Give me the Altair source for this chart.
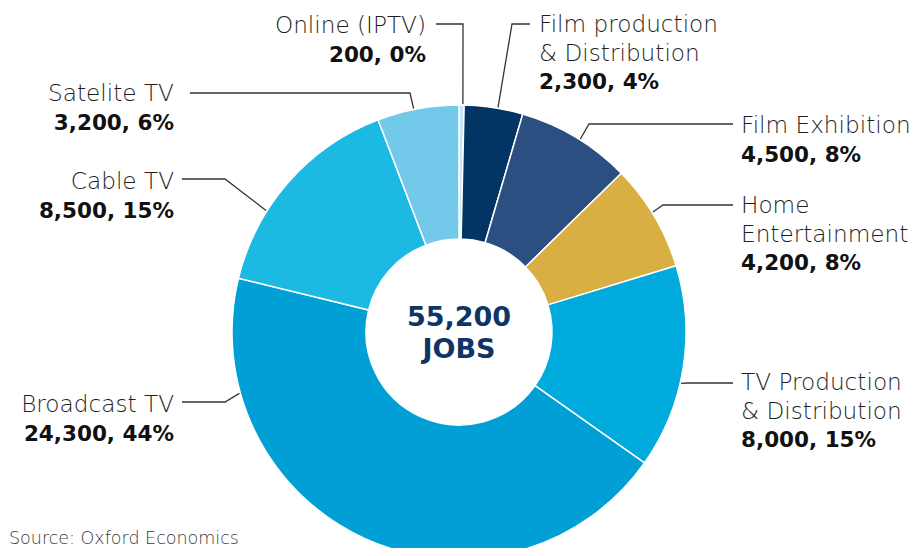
import math
import altair as alt
import pandas as pd

# ---------------- data ----------------
categories = ["Online (IPTV)", "Film production\n& Distribution", "Film Exhibition",
              "Home\nEntertainment", "TV Production\n& Distribution", "Broadcast TV",
              "Cable TV", "Satelite TV"]
jobs = [200, 2300, 4500, 4200, 8000, 24300, 8500, 3200]
pct = [0, 4, 8, 8, 15, 44, 15, 6]
total_label = ["55,200", "JOBS"]
source = "Source: Oxford Economics"

# ---------------- style / layout ----------------
colors = ["#c6e6f5", "#023563", "#2c4f82", "#d9ae43", "#00aadc", "#009fd5", "#1cb9e3", "#73c9ea"]
W, H = 903, 540           # chart size (image coords = chart + 8)
OFF = 8
CX, CY = 459, 332         # pie centre, image coords
R_OUT, R_IN = 227, 93
FONT = "DejaVu Sans"
FS = 23.2
LH = 28.5
# label anchor (image coords): x edge, first baseline, align
lab_x = [426, 539, 741, 741, 741, 174, 174, 174]
lab_y = [33, 32, 133, 213, 390, 412, 189, 101]
lab_align = ["right", "left", "left", "left", "left", "right", "right", "right"]
# leader lines: fraction of slice where line starts, elbow, end
lead_frac = [0.75, 0.57, 0.54, 0.46, 0.575, 0.815, 0.334, 0.45]
elbow = [(463, 24), (512, 24), (589, 124), (663, 205), (688, 383), (225, 402), (225, 179), (410, 93)]
lead_end = [(436, 24), (530, 24), (733, 124), (733, 205), (733, 383), (182, 402), (182, 179), (190, 93)]

xs = alt.Scale(domain=[OFF, W + OFF], zero=False, nice=False)
ys = alt.Scale(domain=[OFF, H + OFF], reverse=True, zero=False, nice=False)

# ---------------- pie ----------------
pie_df = pd.DataFrame({"category": categories, "jobs": jobs, "idx": range(len(jobs))})
pie = alt.Chart(pie_df).mark_arc(innerRadius=R_IN, outerRadius=R_OUT, stroke="white",
                                 strokeWidth=1.5).encode(
    theta=alt.Theta("jobs:Q", stack=True),
    order=alt.Order("idx:Q"),
    color=alt.Color("category:N", scale=alt.Scale(domain=categories, range=colors), legend=None),
    x=alt.value(CX - OFF), y=alt.value(CY - OFF),
)

# ---------------- leader lines ----------------
tot = sum(jobs)
rows = []
cum = 0
for i, c in enumerate(categories):
    a = (cum + lead_frac[i] * jobs[i]) / tot * 2 * math.pi
    cum += jobs[i]
    pts = [(CX + (R_OUT + 1) * math.sin(a), CY - (R_OUT + 1) * math.cos(a)), elbow[i], lead_end[i]]
    for s, (px, py) in enumerate(pts):
        rows.append({"category": c, "step": s, "x": px, "y": py})
lead_df = pd.DataFrame(rows)
leads = alt.Chart(lead_df).mark_line(color="#333333", strokeWidth=1.3).encode(
    x=alt.X("x:Q", scale=xs, axis=None),
    y=alt.Y("y:Q", scale=ys, axis=None),
    detail="category:N",
    order="step:Q",
)

# ---------------- labels ----------------
trows = []
for i, c in enumerate(categories):
    lines = c.split("\n")
    for j, ln in enumerate(lines):
        trows.append({"x": lab_x[i], "y": lab_y[i] + j * LH, "text": ln,
                      "align": lab_align[i], "bold": 0})
    trows.append({"x": lab_x[i], "y": lab_y[i] + len(lines) * LH,
                  "text": f"{jobs[i]:,}, {pct[i]}%", "align": lab_align[i], "bold": 1})
txt_df = pd.DataFrame(trows)

def text_layer(align, bold):
    return alt.Chart(txt_df).transform_filter(
        (alt.datum.align == align) & (alt.datum.bold == bold)
    ).mark_text(align=align, baseline="alphabetic", font=FONT,
                fontSize=(21.5 if bold else FS),
                fontWeight=(700 if bold else 300), color=("#111111" if bold else "#1e1e1e")).encode(
        x=alt.X("x:Q", scale=xs, axis=None),
        y=alt.Y("y:Q", scale=ys, axis=None),
        text="text:N",
    )

labels = [text_layer(a, b) for a in ["left", "right"] for b in [0, 1]]

center_df = pd.DataFrame({"text": total_label, "x": [CX, CX], "y": [326, 358]})
center = alt.Chart(center_df).mark_text(font=FONT, fontSize=27, fontWeight=700,
                                        color="#0f3567", baseline="alphabetic", align="center").encode(
    x=alt.X("x:Q", scale=xs, axis=None),
    y=alt.Y("y:Q", scale=ys, axis=None),
    text="text:N",
)

src_df = pd.DataFrame({"text": [source], "x": [9], "y": [530]})
src = alt.Chart(src_df).mark_text(font=FONT, fontSize=17.5, fontWeight=300, color="#3a3a3a",
                                  baseline="top", align="left").encode(
    x=alt.X("x:Q", scale=xs, axis=None),
    y=alt.Y("y:Q", scale=ys, axis=None),
    text="text:N",
)

chart = alt.layer(pie, leads, *labels, center, src).properties(
    width=W, height=H, padding=0, autosize=alt.AutoSizeParams(type="none")
).configure_view(stroke=None)

chart.save("out.html", embed_options={"renderer": "svg", "actions": False})
